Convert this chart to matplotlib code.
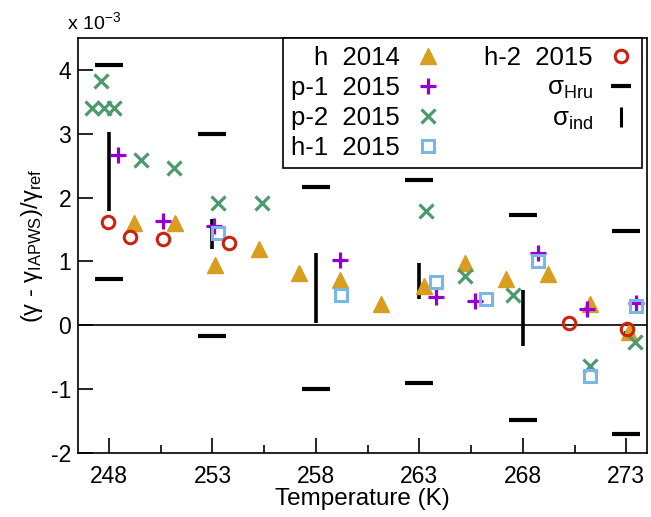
import matplotlib
matplotlib.use('Agg')
import matplotlib.pyplot as plt
from matplotlib.lines import Line2D

plt.rcParams['font.family'] = ['Liberation Sans', 'DejaVu Sans']
plt.rcParams['mathtext.fontset'] = 'custom'
plt.rcParams['mathtext.rm'] = 'Liberation Sans'
plt.rcParams['mathtext.it'] = 'Liberation Sans:italic'
plt.rcParams['axes.unicode_minus'] = False

# data, values in units of 1e-3
h2014_T = [249.23, 251.19, 253.12, 255.23, 257.18, 259.18, 261.16, 263.2, 265.18, 267.2, 269.21, 271.23, 273.12]
h2014_y = [1.60, 1.60, 0.95, 1.19, 0.82, 0.71, 0.34, 0.61, 0.98, 0.73, 0.80, 0.33, -0.11]

p1_T = [248.45, 250.59, 253.09, 259.15, 263.78, 265.7, 268.72, 271.1, 273.48]
p1_y = [2.66, 1.63, 1.55, 1.03, 0.44, 0.38, 1.14, 0.25, 0.35]

p2_T = [247.61, 247.16, 247.74, 248.26, 249.55, 251.16, 253.25, 255.39, 263.33, 265.18, 267.52, 271.23, 273.4]
p2_y = [3.82, 3.41, 3.40, 3.40, 2.59, 2.46, 1.92, 1.92, 1.79, 0.77, 0.48, -0.64, -0.26]

h1_T = [253.28, 259.23, 263.78, 266.23, 268.72, 271.23, 273.45]
h1_y = [1.45, 0.47, 0.68, 0.41, 1.00, -0.79, 0.30]

h2_T = [247.94, 249.01, 250.59, 253.8, 270.22, 273.02]
h2_y = [1.62, 1.38, 1.35, 1.29, 0.04, -0.06]

sig_T = [248, 253, 258, 263, 268, 273]
hru_hi = [4.07, 3.00, 2.17, 2.28, 1.73, 1.48]
hru_lo = [0.73, -0.17, -1.00, -0.91, -1.48, -1.70]
ind_lo = [1.79, 1.19, 0.03, 0.41, -0.32, -0.25]
ind_hi = [3.02, 1.66, 1.125, 0.97, 0.56, -0.09]

xticks = [248, 253, 258, 263, 268, 273]
yticks = [-2, -1, 0, 1, 2, 3, 4]

fig = plt.figure(figsize=(6.51, 5.17), dpi=100)
ax = fig.add_axes([0.1198, 0.1238, 0.8741, 0.8027])

ax.axhline(0, color='black', lw=1.2, zorder=1)

# sigma bars
ax.plot(sig_T, hru_hi, marker='_', ls='none', ms=20, mew=3, color='black', zorder=2)
ax.plot(sig_T, hru_lo, marker='_', ls='none', ms=20, mew=3, color='black', zorder=2)
ax.vlines(sig_T, ind_lo, ind_hi, color='black', lw=2.6, zorder=2)

# measurements
ax.plot(h2014_T, h2014_y, marker='^', ls='none', ms=11, color='#D89E20', mec='#D89E20',
        label='h  2014', zorder=3)
ax.plot(p1_T, p1_y, marker='+', ls='none', ms=11, mew=2.3, color='#9400D3',
        label='p-1  2015', zorder=4)
ax.plot(p2_T, p2_y, marker='x', ls='none', ms=9.5, mew=2.3, color='#4E9A6F',
        label='p-2  2015', zorder=4)
ax.plot(h1_T, h1_y, marker='s', ls='none', ms=8.5, mew=2.2, mfc='none', mec='#7AB6E6',
        label='h-1  2015', zorder=4)
ax.plot(h2_T, h2_y, marker='o', ls='none', ms=9, mew=2.2, mfc='none', mec='#CC2211',
        label='h-2  2015', zorder=5)

handles, labels = ax.get_legend_handles_labels()
handles.append(Line2D([], [], marker='_', ls='none', ms=15, mew=3, color='black'))
labels.append('σ$_{\\mathrm{Hru}}$')
handles.append(Line2D([], [], marker='|', ls='none', ms=15, mew=2.2, color='black'))
labels.append('σ$_{\\mathrm{ind}}$')

leg = ax.legend(handles, labels, ncol=2, markerfirst=False, loc='upper right',
                bbox_to_anchor=(0.991, 1.0), borderaxespad=0, fontsize=18.5,
                frameon=True, fancybox=False, framealpha=1, edgecolor='black',
                handlelength=1.0, handletextpad=0.6, labelspacing=0.24,
                columnspacing=1.7, borderpad=0.3)
leg.get_frame().set_linewidth(1.2)

ax.set_xlim(246.5, 274)
ax.set_ylim(-2, 4.5)
ax.set_xticks(xticks)
ax.set_xticks([250.5, 255.5, 260.5, 265.5, 270.5], minor=True)
ax.set_yticks(yticks)
ax.tick_params(axis='both', which='major', direction='in', length=11, width=1.2, labelsize=16.5)
ax.tick_params(axis='x', which='major', pad=9)
ax.tick_params(axis='y', which='major', pad=5)
ax.tick_params(axis='x', which='minor', direction='in', length=6, width=1.2)
for s in ax.spines.values():
    s.set_linewidth(1.2)

ax.set_xlabel('Temperature (K)', fontsize=17.5, labelpad=0)
ax.set_ylabel('(γ - γ$_{\\mathrm{IAPWS}}$)/γ$_{\\mathrm{ref}}$', fontsize=17, labelpad=4)
ax.text(-0.02, 1.012, 'x 10$^{-3}$', transform=ax.transAxes, fontsize=14,
        ha='left', va='bottom')

plt.savefig('out.png', dpi=100)
